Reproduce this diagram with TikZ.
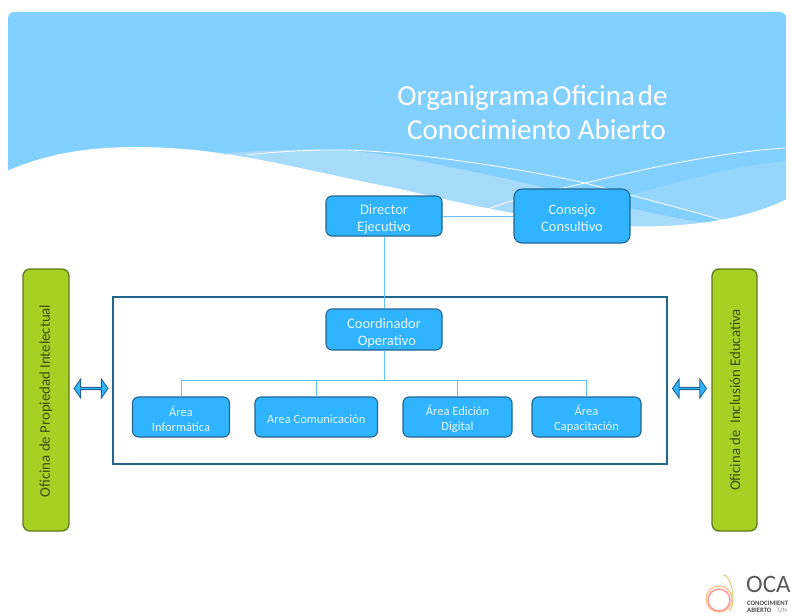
\documentclass[tikz,border=0pt]{standalone}
\usepackage{fontspec}
\setmainfont{Carlito}
\usetikzlibrary{shapes.arrows}
\definecolor{skyb}{HTML}{82D0FF}
\definecolor{bandl}{HTML}{A6DBFC}
\definecolor{bandm}{HTML}{96D6FD}
\definecolor{boxb}{HTML}{30B4FF}
\definecolor{boxe}{HTML}{22668F}
\definecolor{boxt}{HTML}{E4F5FF}
\definecolor{linkc}{HTML}{5CC3FF}
\definecolor{grn}{HTML}{A6D124}
\definecolor{grne}{HTML}{5F7A17}
\definecolor{grnt}{HTML}{3F4F12}
\tikzset{
  box base/.style={draw=boxe,line width=1.1pt,fill=boxb,rounded corners=6pt,text=boxt,align=center,inner sep=0pt},
  big box/.style={box base,font=\fontsize{14.5}{17}\selectfont},
  small box/.style={box base,font=\fontsize{12.5}{15}\selectfont},
  green box/.style={draw=grne,line width=1.3pt,fill=grn,rounded corners=7pt,inner sep=0pt,minimum width=46pt,minimum height=262pt},
  green label/.style={rotate=90,text=grnt,font=\fontsize{14.8}{17}\selectfont},
  link/.style={draw=linkc,line width=.9pt},
  both arrow/.style={double arrow,draw=boxe,line width=.9pt,fill=boxb,inner sep=0pt,minimum width=19pt,minimum height=34pt,double arrow head extend=3.5pt,double arrow tip angle=110,shape border rotate=0},
  hairline/.style={draw=white,line width=.8pt}
}
\begin{document}
\begin{tikzpicture}[x=1pt,y=-1pt]
\useasboundingbox (0,0) rectangle (791,615);
% header
\fill[skyb,rounded corners=6pt] (8,12) -- (786,12) -- (786,120) -- (8,120) -- cycle;
\fill[skyb] (8,100) rectangle (786,205);
\fill[skyb] (8,200) rectangle (786,235);
% light bands (the wave is laid over them)
\fill[bandl] (228,153) .. controls (270,150) and (310,149) .. (340,150) .. controls (360,151) and (385,155) .. (400,157)
  .. controls (450,167) and (500,177) .. (533,185) .. controls (590,199) and (650,214) .. (705,223)
  -- (705,240) -- (228,240) -- cycle;
\fill[bandm] (631,195) .. controls (680,181) and (735,166) .. (786,161) -- (786,225) -- (722,225) -- (722,220) -- cycle;
% white wave
\fill[white] (7,171) .. controls (50,152) and (95,147) .. (135,147) .. controls (230,147) and (300,170) .. (400,189)
  .. controls (460,203) and (560,226.5) .. (640,226.5) .. controls (690,226.5) and (745,220) .. (787,199)
  -- (787,260) -- (7,260) -- cycle;
\draw[hairline] (247,155) .. controls (280,151) and (320,149.5) .. (345,150) .. controls (400,151) and (510,166) .. (585,183)
  .. controls (630,195) and (680,208) .. (722,220);
\draw[hairline] (488,209) .. controls (520,197) and (550,191) .. (585,183)
  .. controls (640,170) and (720,152) .. (785,148);
% title
\node[name=titlea,text=white,anchor=center,font=\fontsize{29}{32}\selectfont,inner sep=0pt] at (532.5,98) {\spaceskip=3pt Organigrama Oficina de};
\node[name=titleb,text=white,anchor=center,font=\fontsize{29}{32}\selectfont,inner sep=0pt] at (536.5,130) {Conocimiento Abierto};
% frame
\node[name=frame,draw=boxe,line width=1.2pt,fill=white,minimum width=554pt,minimum height=167pt,inner sep=0pt] at (390,380.5) {};
% boxes
\node[big box,name=dir,minimum width=116pt,minimum height=40pt] at (384,216) {\rule{0pt}{17pt}Director\\Ejecutivo};
\node[big box,name=con,minimum width=116pt,minimum height=54pt,rounded corners=8pt] at (572,216) {\rule{0pt}{15pt}Consejo\\Consultivo};
\node[big box,name=coo,minimum width=116pt,minimum height=41pt] at (384,329.5) {\rule{0pt}{17pt}Coordinador\\\ \,Operativo};
\node[small box,name=inf,minimum width=97pt,minimum height=40pt] at (181,417) {\rule{0pt}{14pt}Área\\Informática};
\node[small box,name=com,minimum width=122.5pt,minimum height=40pt] at (316.25,417) {\rule{0pt}{13pt}Area Comunicación};
\node[small box,name=edi,minimum width=109pt,minimum height=40pt] at (457.5,417) {\rule{0pt}{14pt}Área Edición\\Digital};
\node[small box,name=cap,minimum width=109pt,minimum height=40pt] at (586.5,417) {\rule{0pt}{14pt}Área\\Capacitación};
% connectors
\coordinate (bus) at (384,380);
\draw[link] (dir.south) -- (coo.north);
\draw[link] (dir.east) -- (dir.east -| con.west);
\draw[link] (coo.south) -- (bus);
\draw[link] (inf.north) |- (bus);
\draw[link] (com.north) |- (bus);
\draw[link] (edi.north) |- (bus);
\draw[link] (cap.north) |- (bus);
% side boxes
\node[green box,name=lft] at (46,400) {};
\node[green label,name=lftt] at (46,401) {Oficina de Propiedad Intelectual};
\node[green box,name=rgt,minimum width=45pt] at (734.5,400) {};
\node[green label,name=rgtt] at (735,400) {Oficina de\ \ Inclusión Educativa};
\node[both arrow,name=arl] at (91,388.5) {};
\node[both arrow,name=arr] at (689.5,388.5) {};
% logo
\begin{scope}
\clip (0,0) rectangle (791,615);
\draw[color=orange!45!white,line width=1.3pt] (719,599) circle (13);
\draw[color=pink!80!red,line width=1.5pt] (719,600) circle (11);
\draw[color=olive!40!white,line width=1pt] (723,575) .. controls (730,575) and (733,590) .. (733,600) .. controls (733,606) and (731,609) .. (729,611);
\node[name=oca,anchor=west,inner sep=0pt,text=black!65,font=\fontsize{25}{25}\selectfont] at (746,584) {OCA};
\node[name=conoc,anchor=west,inner sep=0pt,text=black!70,font=\bfseries\fontsize{6.7}{7}\selectfont] at (747,603.5) {CONOCIMIENT};
\node[name=abier,anchor=west,inner sep=0pt,text=black!70,font=\bfseries\fontsize{6.7}{7}\selectfont] at (747,610) {ABIERTO};
\node[name=unid,anchor=west,inner sep=0pt,text=black!40,font=\fontsize{6.7}{7}\selectfont] at (778,610) {UN};
\end{scope}
\end{tikzpicture}
\end{document}
